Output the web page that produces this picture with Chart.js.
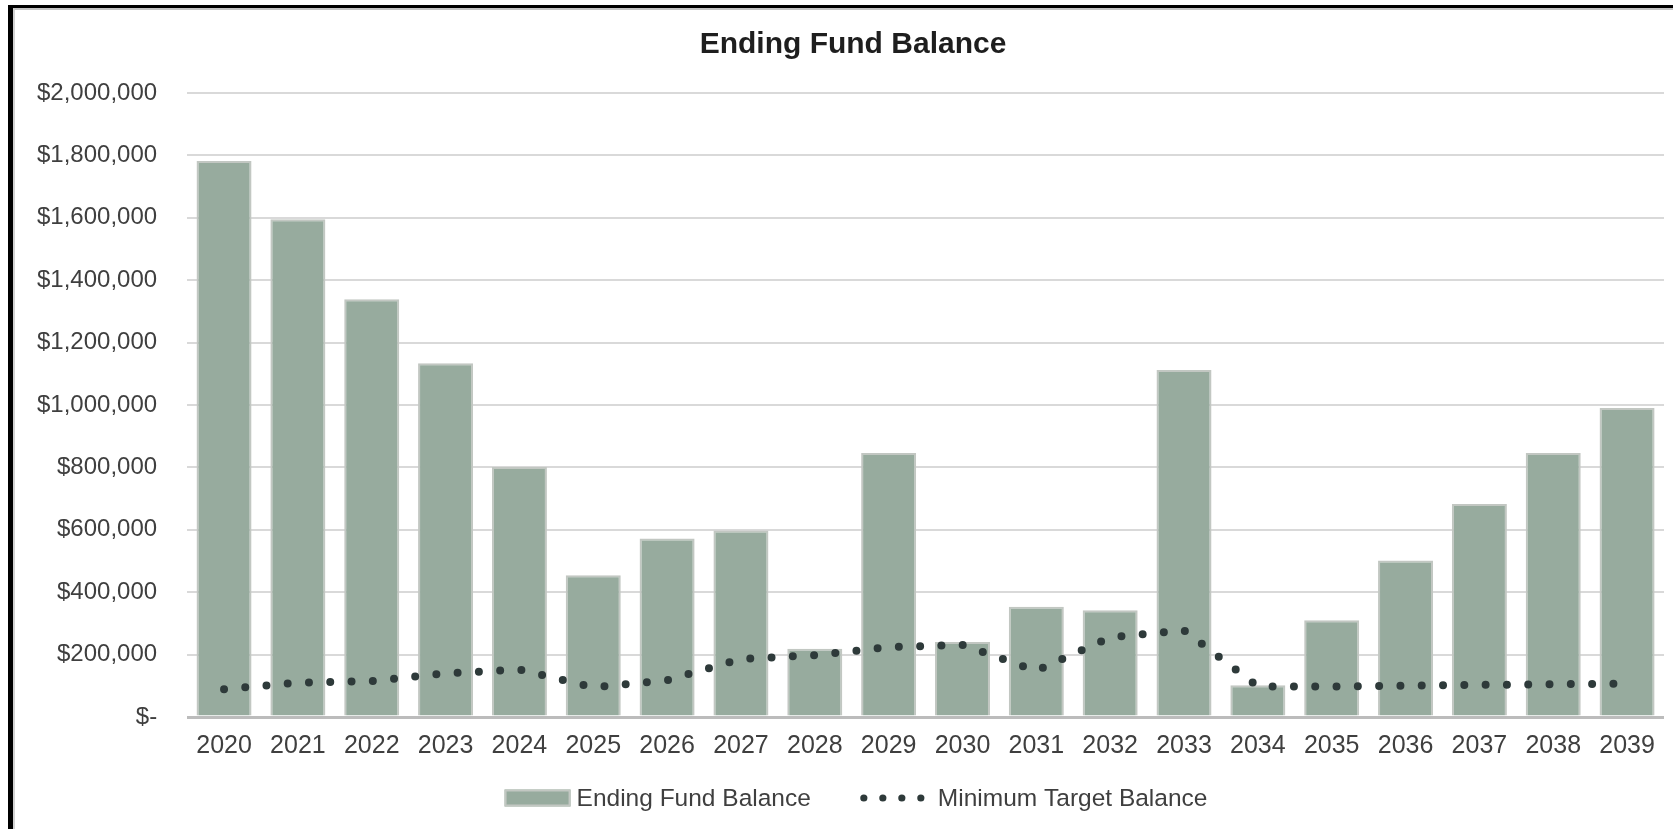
<!DOCTYPE html>
<html>
<head>
<meta charset="utf-8">
<title>Ending Fund Balance</title>
<script src="https://cdn.jsdelivr.net/npm/chart.js@4.4.1/dist/chart.umd.min.js"></script>
<style>
    html, body { margin: 0; padding: 0; background: #fff; overflow: hidden; }
    #frame {
        position: absolute; left: 8px; top: 5px; width: 1800px; height: 900px;
        border-left: 5px solid #000; border-top: 3px solid #000;
    }
    #inner {
        position: absolute; left: 0; top: 0; right: 0; bottom: 0;
        border-left: 2px solid #d2d2d2; border-top: 2px solid #c4c4c4;
    }
    #fundChart { position: absolute; left: 7px; top: 10px; }
</style>
</head>
<body>
<div id="frame"><div id="inner"></div></div>
<canvas id="fundChart" width="1700" height="819"></canvas>
<script>
// chart data
var years = ["2020", "2021", "2022", "2023", "2024", "2025", "2026", "2027", "2028", "2029",
             "2030", "2031", "2032", "2033", "2034", "2035", "2036", "2037", "2038", "2039"];
var endingBalance = [1782000, 1595000, 1339000, 1134000, 801000, 454000, 572000, 598000, 219000, 846000,
                     240000, 353000, 342000, 1112000, 102000, 310000, 502000, 683000, 846000, 990000];
var minTarget = [89000, 110000, 115000, 140000, 152000, 95000, 118000, 186000, 198000, 224000,
                 231000, 148000, 255000, 278000, 98000, 98000, 100000, 103000, 105000, 107000];
var seriesNames = ["Ending Fund Balance", "Minimum Target Balance"];
var chartTitle = "Ending Fund Balance";
var yTicks = { min: 0, max: 2000000, step: 200000 };

var FONT = "'Liberation Sans', Arial, sans-serif";
var barColor = "#97ab9e";
var barEdge = "#c2c7c2";
var dotColor = "#2e3a3a";
var textColor = "#3f3f3f";

function money(v) {
    if (v === 0) return "$-";
    return "$" + v.toLocaleString("en-US");
}

// title and legend, placed like the original (centred on the full frame, not the plot)
var titleAndLegend = {
    id: "titleAndLegend",
    afterDraw: function (chart) {
        var ctx = chart.ctx;
        ctx.save();

        // title
        ctx.font = "bold 30px " + FONT;
        ctx.fillStyle = "#1e1e1e";
        ctx.textAlign = "center";
        ctx.textBaseline = "middle";
        ctx.fillText(chartTitle, 846, 35);

        // legend
        ctx.font = "24.5px " + FONT;
        var w1 = ctx.measureText(seriesNames[0]).width;
        var w2 = ctx.measureText(seriesNames[1]).width;
        var total = 66 + 6 + w1 + 49 + 66 + 12 + w2;
        var x = 849 - total / 2;
        var cy = 788;

        ctx.fillStyle = barColor;
        ctx.fillRect(x, cy - 8.5, 66, 17);
        ctx.strokeStyle = barEdge;
        ctx.lineWidth = 2;
        ctx.strokeRect(x + 1, cy - 7.5, 64, 15);
        x += 66 + 6;

        ctx.fillStyle = textColor;
        ctx.textAlign = "left";
        ctx.fillText(seriesNames[0], x, cy + 1);
        x += w1 + 49;

        ctx.fillStyle = dotColor;
        for (var i = 0; i < 4; i++) {
            ctx.beginPath();
            ctx.arc(x + 4 + i * 19, cy, 3.6, 0, Math.PI * 2);
            ctx.fill();
        }
        x += 66 + 12;

        ctx.fillStyle = textColor;
        ctx.fillText(seriesNames[1], x, cy + 1);
        ctx.restore();
    }
};

var ctx = document.getElementById("fundChart").getContext("2d");
new Chart(ctx, {
    type: "bar",
    data: {
        labels: years,
        datasets: [
            {
                type: "line",
                label: seriesNames[1],
                data: minTarget,
                borderColor: dotColor,
                borderWidth: 8,
                borderDash: [0, 21.3],
                borderCapStyle: "round",
                pointRadius: 0,
                pointHoverRadius: 0,
                tension: 0,
                fill: false,
                order: 0
            },
            {
                label: seriesNames[0],
                data: endingBalance,
                backgroundColor: barColor,
                borderColor: barEdge,
                borderWidth: 2,
                barPercentage: 0.745,
                categoryPercentage: 1,
                order: 1
            }
        ]
    },
    options: {
        responsive: false,
        animation: false,
        devicePixelRatio: 1,
        layout: { padding: { left: 0, right: 43, top: 83, bottom: 54 } },
        plugins: {
            title: { display: false },
            legend: { display: false },
            tooltip: { enabled: false }
        },
        scales: {
            x: {
                offset: true,
                grid: { display: false, drawTicks: false },
                border: { display: false },
                ticks: { color: textColor, font: { family: FONT, size: 25 }, padding: 14, maxRotation: 0 }
            },
            y: {
                min: yTicks.min,
                max: yTicks.max,
                grid: {
                    drawTicks: false,
                    color: function (c) { return c.tick && c.tick.value === 0 ? "#bcbcbc" : "#d9d9d9"; },
                    lineWidth: function (c) { return c.tick && c.tick.value === 0 ? 3 : 2; }
                },
                border: { display: false },
                ticks: {
                    stepSize: yTicks.step,
                    color: textColor,
                    font: { family: FONT, size: 24 },
                    padding: 30,
                    callback: function (v) { return money(v); }
                }
            }
        }
    },
    plugins: [titleAndLegend]
});
</script>
</body>
</html>
